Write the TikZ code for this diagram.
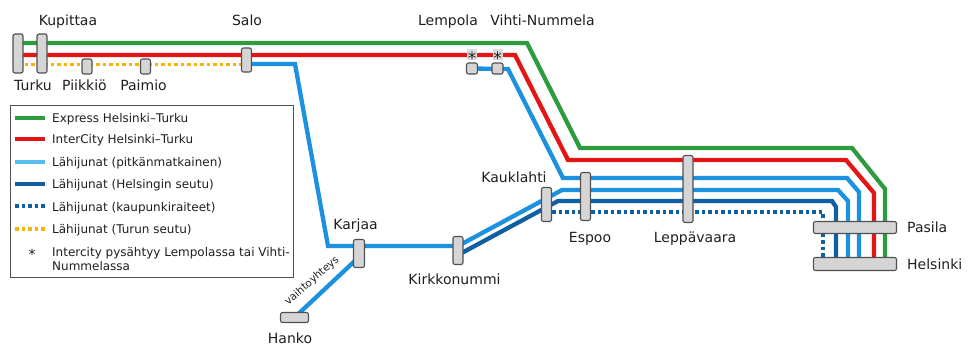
\documentclass[tikz,border=0pt]{standalone}
\usepackage{fontspec}
\setmainfont{DejaVu Sans}
\usetikzlibrary{backgrounds}
\definecolor{cgreen}{HTML}{2E9B3E}
\definecolor{cred}{HTML}{E51515}
\definecolor{clight}{HTML}{1C91E0}
\definecolor{clightleg}{HTML}{55BDF0}
\definecolor{cdark}{HTML}{0F5FA3}
\definecolor{cyellow}{HTML}{F5B500}
\definecolor{cbox}{HTML}{D5D5D5}
\definecolor{cedge}{HTML}{505050}
\definecolor{ctext}{HTML}{1E1E1E}
\definecolor{cast}{HTML}{DADADA}
\begin{document}
\begin{tikzpicture}[x=1pt,y=-1pt,
  stn/.style={draw=cedge, fill=cbox, line width=1.1pt, rounded corners=2pt, inner sep=0pt},
  astbox/.style={fill=cast, inner sep=0pt, minimum width=10pt, minimum height=11pt, font=\fontsize{17}{18}\selectfont, text=ctext},
  lbl/.style={anchor=base, inner sep=0pt, font=\fontsize{14}{16}\selectfont, text=ctext},
  leg/.style={anchor=base west, inner sep=0pt, font=\fontsize{12}{14}\selectfont, text=ctext},
  rail/.style={line width=4.3pt},
  legline/.style={line width=4pt},
  dotline/.style={line width=3.5pt, dash pattern=on 3.5pt off 3pt}]
\useasboundingbox (0,0) rectangle (968,345);

% stations
\node[stn, minimum width=10pt, minimum height=39pt] (turku) at (18,53.5) {};
\node[stn, minimum width=10pt, minimum height=39pt] (kupittaa) at (42,53.5) {};
\node[stn, minimum width=10pt, minimum height=15pt] (piikkio) at (87,66.5) {};
\node[stn, minimum width=10pt, minimum height=15pt] (paimio) at (145.5,66.5) {};
\node[stn, minimum width=10pt, minimum height=24pt] (salo) at (246.5,60) {};
\node[stn, minimum width=11pt, minimum height=11pt] (lempola) at (472,68.5) {};
\node[stn, minimum width=11pt, minimum height=11pt] (vihti) at (497.5,68.5) {};
\node[astbox] (lemast) at (472,54.5) {\smash{\raisebox{-0.56em}{*}}};
\node[astbox] (vihast) at (497.5,54.5) {\smash{\raisebox{-0.56em}{*}}};
\node[stn, minimum width=11pt, minimum height=28pt] (karjaa) at (359,253.5) {};
\node[stn, minimum width=10pt, minimum height=28pt] (kirkkonummi) at (458,250.5) {};
\node[stn, minimum width=28pt, minimum height=10pt] (hanko) at (294.5,317.5) {};
\node[stn, minimum width=10pt, minimum height=34pt] (kauklahti) at (546.5,204.5) {};
\node[stn, minimum width=10pt, minimum height=48pt] (espoo) at (585.5,196.5) {};
\node[stn, minimum width=10pt, minimum height=67pt] (leppavaara) at (688,189) {};
\node[stn, minimum width=83pt, minimum height=12pt] (pasila) at (855,227.5) {};
\node[stn, minimum width=83pt, minimum height=13pt] (helsinki) at (855,264) {};

% station labels
\node[lbl] (tkupittaa) at (68,26) {Kupittaa};
\node[lbl] (tsalo) at (247,26) {Salo};
\node[lbl] (tlempola) at (448,26) {Lempola};
\node[lbl] (tvihti) at (542.5,26) {Vihti-Nummela};
\node[lbl] (tturku) at (33,90) {Turku};
\node[lbl] (tpiikkio) at (84.5,90) {Piikkiö};
\node[lbl] (tpaimio) at (143.5,90) {Paimio};
\node[lbl] (tkauklahti) at (514,182) {Kauklahti};
\node[lbl] (tespoo) at (590,242) {Espoo};
\node[lbl] (tleppavaara) at (695,242) {Leppävaara};
\node[lbl] (tkarjaa) at (355.5,229) {Karjaa};
\node[lbl] (tkirkkonummi) at (454.5,284) {Kirkkonummi};
\node[lbl] (thanko) at (290,343) {Hanko};
\node[lbl, anchor=base west] (tpasila) at (907,232) {Pasila};
\node[lbl, anchor=base west] (thelsinki) at (907,269) {Helsinki};
\node[inner sep=0pt, font=\fontsize{10.5}{12}\selectfont, text=ctext, rotate=41] (tvaihto) at (312,281) {vaihtoyhteys};

% route coordinates
\coordinate (gS) at (18,43);   \coordinate (g1) at (527,43);  \coordinate (g2) at (580,148);
\coordinate (g3) at (852,148); \coordinate (g4) at (885,189); \coordinate (g5) at (885,264);
\coordinate (rS) at (18,55);   \coordinate (r1) at (515,55);  \coordinate (r2) at (568,160);
\coordinate (r3) at (846,160); \coordinate (r4) at (874,193); \coordinate (r5) at (874,264);
\coordinate (v1) at (508,69);  \coordinate (v2) at (563,178); \coordinate (v3) at (847,178);
\coordinate (v4) at (859,192); \coordinate (v5) at (859,264);
\coordinate (kS) at (246.5,64); \coordinate (k1) at (295,64); \coordinate (k2) at (328,246);
\coordinate (k3) at (458,246); \coordinate (k4) at (562,190); \coordinate (k5) at (838,190);
\coordinate (k6) at (848,201); \coordinate (k7) at (848,264);
\coordinate (dS) at (458,255); \coordinate (d1) at (558,201); \coordinate (d2) at (832,201);
\coordinate (d3) at (836,207); \coordinate (d4) at (836,264);
\coordinate (pS) at (552,212); \coordinate (p1) at (823,212); \coordinate (p2) at (823,264);
\coordinate (yS) at (18,64.5); \coordinate (y1) at (246.5,64.5);
\coordinate (hK) at (359,257);

\begin{pgfonlayer}{background}
\draw[rail, cgreen] (gS) -- (g1) -- (g2) -- (g3) -- (g4) -- (g5);
\draw[rail, cred] (rS) -- (r1) -- (r2) -- (r3) -- (r4) -- (r5);
\draw[rail, clight] (lempola.center) -- (v1) -- (v2) -- (v3) -- (v4) -- (v5);
\draw[rail, clight] (kS) -- (k1) -- (k2) -- (k3) -- (k4) -- (k5) -- (k6) -- (k7);
\draw[rail, cdark] (dS) -- (d1) -- (d2) -- (d3) -- (d4);
\draw[dotline, cdark] (pS) -- (p1) -- (p2);
\draw[dotline, cyellow] (yS) -- (y1);
\draw[rail, clight] (hanko.center) -- (hK);
\end{pgfonlayer}

% legend
\node[draw=cedge, line width=0.9pt, inner sep=0pt, minimum width=283pt, minimum height=172pt] (legend) at (151.5,191) {};
\coordinate (l1a) at (15,118); \coordinate (l1b) at (45,118);
\coordinate (l2a) at (15,139); \coordinate (l2b) at (45,139);
\coordinate (l3a) at (15,162); \coordinate (l3b) at (45,162);
\coordinate (l4a) at (15,184); \coordinate (l4b) at (45,184);
\coordinate (l5a) at (15,206); \coordinate (l5b) at (46,206);
\coordinate (l6a) at (15,229); \coordinate (l6b) at (46,229);
\draw[legline, cgreen] (l1a) -- (l1b);
\draw[legline, cred] (l2a) -- (l2b);
\draw[legline, clightleg] (l3a) -- (l3b);
\draw[legline, cdark] (l4a) -- (l4b);
\draw[dotline, cdark] (l5a) -- (l5b);
\draw[dotline, cyellow] (l6a) -- (l6b);
\node[leg] (e1) at (52,122) {Express Helsinki–Turku};
\node[leg] (e2) at (52,143) {InterCity Helsinki–Turku};
\node[leg] (e3) at (52,166) {Lähijunat (pitkänmatkainen)};
\node[leg] (e4) at (52,188) {Lähijunat (Helsingin seutu)};
\node[leg] (e5) at (52,211) {Lähijunat (kaupunkiraiteet)};
\node[leg] (e6) at (52,233) {Lähijunat (Turun seutu)};
\node[inner sep=0pt, font=\fontsize{14}{14}\selectfont, text=ctext] (e7a) at (32,252) {\smash{\raisebox{-0.56em}{*}}};
\node[leg] (e7) at (52,256) {Intercity pysähtyy Lempolassa tai Vihti-};
\node[leg] (e8) at (52,270) {Nummelassa};
\end{tikzpicture}
\end{document}
